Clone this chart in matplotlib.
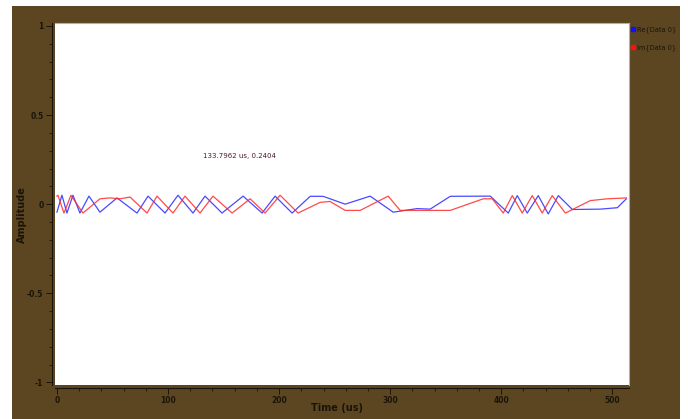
#!/usr/bin/env python3

import numpy as np
import matplotlib
matplotlib.use("Agg")
import matplotlib.pyplot as plt
from matplotlib.lines import Line2D
from matplotlib.patches import Rectangle
from matplotlib.ticker import MultipleLocator

# Re{Data 0}: peaks, troughs and plateaus of the captured trace
re_t = [0.0, 4.5, 9.0, 14.4, 20.7, 28.8, 38.7, 54.1, 72.1, 82.0, 97.3, 109.0,
        122.5, 133.3, 148.6, 167.6, 184.7, 196.4, 211.7, 228.0, 239.6, 259.5,
        282.0, 302.7, 324.3, 336.0, 354.1, 390.1, 406.3, 414.4, 423.4, 433.3,
        442.3, 451.4, 464.0, 489.2, 504.5, 512.6]
re_v = [-0.045, 0.05, -0.05, 0.05, -0.05, 0.045, -0.045, 0.035, -0.05, 0.045,
        -0.05, 0.05, -0.05, 0.045, -0.05, 0.045, -0.05, 0.045, -0.05, 0.044,
        0.044, 0.0, 0.045, -0.045, -0.025, -0.028, 0.044, 0.045, -0.05, 0.048,
        -0.05, 0.048, -0.055, 0.048, -0.03, -0.028, -0.02, 0.03]

# Im{Data 0}
im_t = [0.0, 0.9, 6.3, 12.6, 23.4, 38.7, 47.7, 56.8, 65.8, 81.1, 90.1, 104.5,
        115.3, 128.8, 140.5, 157.7, 173.9, 187.4, 200.9, 217.1, 236.9, 245.9,
        259.5, 273.0, 298.2, 309.0, 354.1, 383.8, 391.9, 401.8, 409.9, 418.9,
        427.9, 436.9, 445.9, 457.7, 480.2, 495.5, 512.6]
im_v = [0.045, 0.05, -0.05, 0.05, -0.05, 0.03, 0.035, 0.03, 0.04, -0.05,
        0.045, -0.05, 0.045, -0.05, 0.045, -0.05, 0.03, -0.05, 0.05, -0.05,
        0.01, 0.015, -0.035, -0.035, 0.045, -0.035, -0.035, 0.03, 0.03, -0.05,
        0.048, -0.05, 0.048, -0.05, 0.048, -0.05, 0.02, 0.03, 0.035]

tracker_t, tracker_a = 133.7962, 0.2404
bg = "#5c4622"
ink = "#1a1408"

fig = plt.figure(figsize=(6.88, 4.19), dpi=100, facecolor="white")
fig.patches.append(Rectangle((12 / 688, 0), 668 / 688, 413 / 419,
                             transform=fig.transFigure, facecolor=bg,
                             edgecolor="none", zorder=-10))

ax = fig.add_axes([54.5 / 688, 34 / 419, 574.5 / 688, 361.7 / 419])
ax.set_facecolor("white")
ax.plot(re_t, re_v, color="#2a2aff", lw=0.9, alpha=0.85)
ax.plot(im_t, im_v, color="#ff2a2a", lw=0.9, alpha=0.85)

ax.set_xlim(-2.2, 515)
ax.set_ylim(-1.015, 1.015)
ax.xaxis.set_major_locator(MultipleLocator(100))
ax.xaxis.set_minor_locator(MultipleLocator(20))
ax.yaxis.set_minor_locator(MultipleLocator(0.1))
ax.set_yticks([-1, -0.5, 0, 0.5, 1])
ax.set_yticklabels(["-1", "-0.5", "0", "0.5", "1"])

for side in ("top", "right"):
    ax.spines[side].set_color("#b0b0b0")
    ax.spines[side].set_linewidth(0.8)
for side in ("left", "bottom"):
    ax.spines[side].set_color(ink)
    ax.spines[side].set_linewidth(0.8)
    ax.spines[side].set_position(("outward", 2))

ax.tick_params(which="major", direction="out", length=4, width=0.7,
               color=ink, labelsize=5.5, labelcolor=ink, pad=2)
ax.tick_params(which="minor", direction="out", length=2, width=0.6, color=ink)
for lbl in ax.get_xticklabels() + ax.get_yticklabels():
    lbl.set_fontweight("bold")

# axis titles placed in figure coords, like the Qwt scale titles
fig.text(22 / 688, 1 - 215 / 419, "Amplitude", rotation=90, fontsize=7,
         fontweight="bold", color=ink, ha="center", va="center")
fig.text(337 / 688, 1 - 408 / 419, "Time (us)", fontsize=7,
         fontweight="bold", color=ink, ha="center", va="center")

ax.text(164.7, 0.272, "{:.4f} us, {:.4f}".format(tracker_t, tracker_a),
        fontsize=5, color="#4a1a2a", ha="center", va="center")

handles = [Line2D([], [], ls="none", marker="s", ms=3, color="#1010ff"),
           Line2D([], [], ls="none", marker="s", ms=3, color="#ff1010")]
leg = fig.legend(handles, ["Re{Data 0}", "Im{Data 0}"], loc="upper left",
                 bbox_to_anchor=(628 / 688, 395 / 419), frameon=False,
                 fontsize=4.8, handlelength=0.6, handletextpad=0.3,
                 labelspacing=1.6, borderaxespad=0)
for txt in leg.get_texts():
    txt.set_color(ink)

fig.savefig("out.png", dpi=100, facecolor=fig.get_facecolor())
